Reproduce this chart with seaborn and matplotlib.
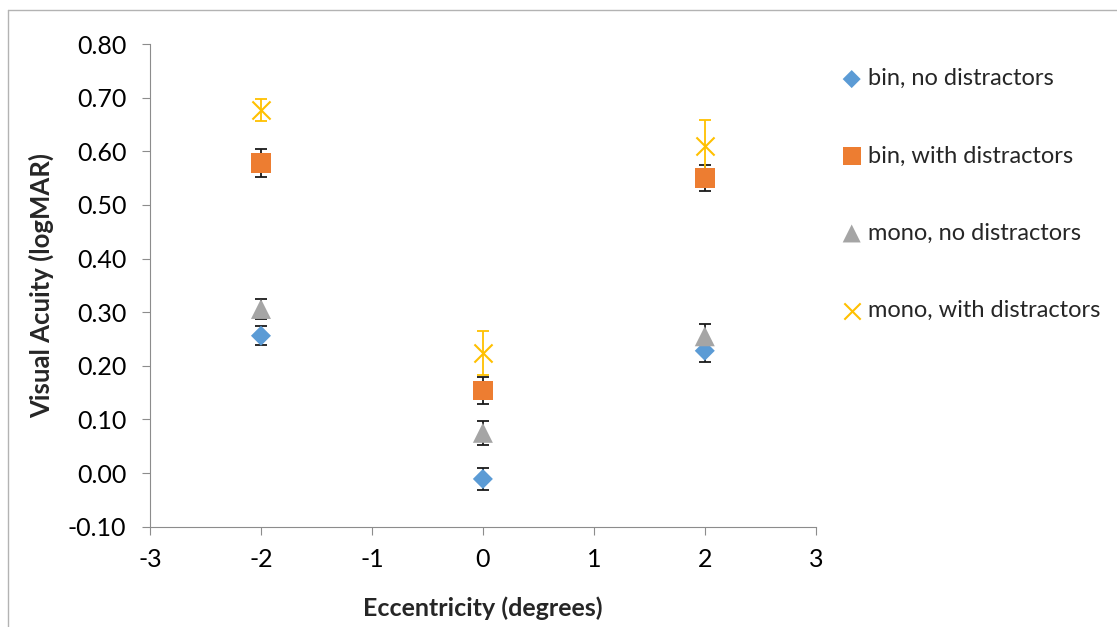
import pandas as pd
import seaborn as sns
import matplotlib.pyplot as plt

# Eccentricity (degrees) and visual acuity (logMAR)
eccentricity = [-2, 0, 2]

bin_no = [0.256, -0.011, 0.228]
bin_no_err = [0.018, 0.021, 0.021]
bin_with = [0.578, 0.154, 0.550]
bin_with_err = [0.026, 0.025, 0.025]
mono_no = [0.306, 0.075, 0.255]
mono_no_err = [0.019, 0.022, 0.023]
mono_with = [0.677, 0.224, 0.610]
mono_with_err = [0.020, 0.041, 0.048]

labels = ["bin, no distractors", "bin, with distractors",
          "mono, no distractors", "mono, with distractors"]
y_ticks = [-0.1, 0.0, 0.1, 0.2, 0.3, 0.4, 0.5, 0.6, 0.7, 0.8]
x_ticks = [-3, -2, -1, 0, 1, 2, 3]


def set_config():
    sns.set_style("ticks")
    plt.rcParams["font.family"] = ["Lato", "DejaVu Sans"]
    plt.rcParams["axes.edgecolor"] = "#8c8c8c"
    plt.rcParams["xtick.color"] = "#8c8c8c"
    plt.rcParams["ytick.color"] = "#8c8c8c"
    plt.rcParams["xtick.labelcolor"] = "black"
    plt.rcParams["ytick.labelcolor"] = "black"


def main():
    set_config()
    fig = plt.figure(figsize=(11.17, 6.27), dpi=100)
    ax = fig.add_axes([0.1343, 0.160, 0.596, 0.7698])

    series = [
        (bin_no, bin_no_err, "#5B9BD5", "D", 104, "#1a1a1a"),
        (bin_with, bin_with_err, "#ED7D31", "s", 200, "#1a1a1a"),
        (mono_no, mono_no_err, "#A5A5A5", "^", 207, "#1a1a1a"),
        (mono_with, mono_with_err, "#FFC000", "x", 170, "#FFC000"),
    ]

    handles = []
    for (vals, errs, color, marker, size, ecolor), label in zip(series, labels):
        df = pd.DataFrame({"ecc": eccentricity, "va": vals, "err": errs})
        ax.errorbar(df["ecc"], df["va"], yerr=df["err"], fmt="none",
                    ecolor=ecolor, elinewidth=1.3, capsize=4.3, capthick=1.3,
                    zorder=2)
        if marker == "x":
            sns.scatterplot(data=df, x="ecc", y="va", marker=marker, s=size,
                            color=color, linewidth=1.5, ax=ax, zorder=3)
        else:
            sns.scatterplot(data=df, x="ecc", y="va", marker=marker, s=size,
                            color=color, edgecolor="none", ax=ax, zorder=3)
        handles.append(ax.collections[-1])

    ax.set_xlim(-3, 3)
    ax.set_ylim(-0.1, 0.8)
    ax.set_xticks(x_ticks)
    ax.set_yticks(y_ticks)
    ax.set_xticklabels([str(t) for t in x_ticks], fontsize=18)
    ax.set_yticklabels([f"{t:.2f}" for t in y_ticks], fontsize=18)
    ax.tick_params(axis="x", length=6, pad=9)
    ax.tick_params(axis="y", length=6, pad=11)
    ax.spines["top"].set_visible(False)
    ax.spines["right"].set_visible(False)

    ax.set_xlabel("Eccentricity (degrees)", fontsize=18, fontweight="bold",
                  labelpad=19)
    ax.set_ylabel("Visual Acuity (logMAR)", fontsize=18.5, fontweight="bold",
                  labelpad=10)

    ax.legend(handles, labels, loc="upper left", frameon=False,
              bbox_to_anchor=(0.735, 0.925), bbox_transform=fig.transFigure,
              fontsize=17, labelspacing=2.38, handletextpad=0.28,
              handlelength=0.8, markerscale=0.9)

    # chart frame (top and left edges visible)
    fig.add_artist(plt.Line2D([0.007, 1.0], [0.984, 0.984],
                              transform=fig.transFigure, color="#b3b3b3", lw=1))
    fig.add_artist(plt.Line2D([0.007, 0.007], [0.0, 0.984],
                              transform=fig.transFigure, color="#b3b3b3", lw=1))

    fig.savefig("out.png", dpi=100)


if __name__ == "__main__":
    main()
